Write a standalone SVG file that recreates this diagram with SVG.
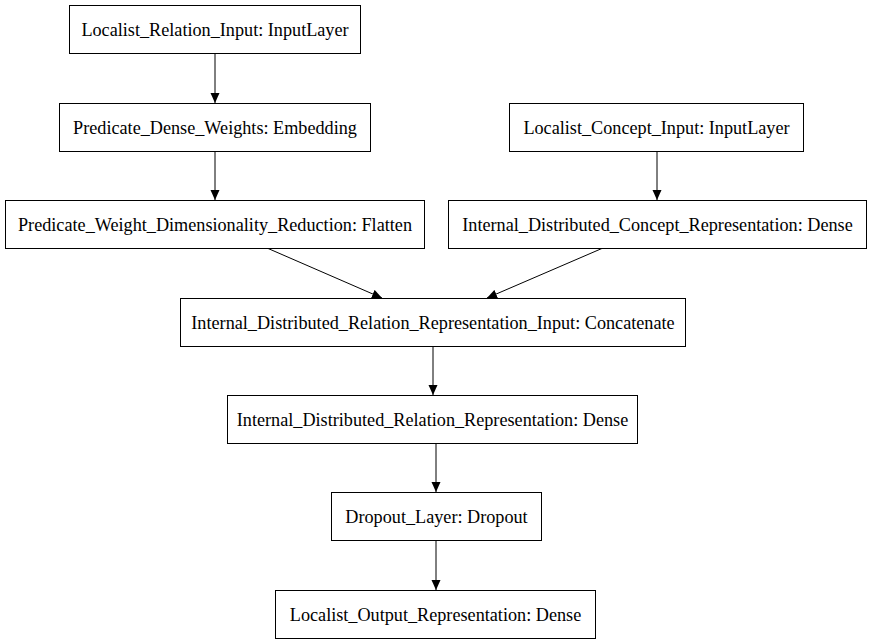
<svg xmlns="http://www.w3.org/2000/svg" width="872" height="644" viewBox="0 0 872 644">
<style>
.n rect{fill:#fff;stroke:#000;stroke-width:1}
.n text{font-family:"Liberation Serif","Times New Roman",serif;font-size:18.2px;text-anchor:middle;fill:#000}
.e line{stroke:#000;stroke-width:1}
</style>
<defs>
<marker id="ah" markerWidth="10" markerHeight="10" refX="10" refY="5" orient="auto" markerUnits="userSpaceOnUse">
<path d="M0,0.5 L10,5 L0,9.5 Z" fill="#000"/>
</marker>
</defs>
<rect width="872" height="644" fill="#fff"/>
<g class="e">
<line x1="215" y1="54" x2="215" y2="103" marker-end="url(#ah)"/>
<line x1="215" y1="152" x2="215" y2="200" marker-end="url(#ah)"/>
<line x1="657" y1="152" x2="657" y2="200" marker-end="url(#ah)"/>
<line x1="267" y1="248" x2="382" y2="298" marker-end="url(#ah)"/>
<line x1="603" y1="248" x2="487" y2="298" marker-end="url(#ah)"/>
<line x1="433" y1="346" x2="433" y2="395" marker-end="url(#ah)"/>
<line x1="436" y1="443" x2="436" y2="492" marker-end="url(#ah)"/>
<line x1="436" y1="541" x2="436" y2="590" marker-end="url(#ah)"/>
</g>
<g id="n1" class="n"><rect x="69.5" y="5.5" width="291" height="48"/><text x="215" y="36">Localist_Relation_Input: InputLayer</text></g>
<g id="n2" class="n"><rect x="59.5" y="103.5" width="311" height="48"/><text x="215" y="134">Predicate_Dense_Weights: Embedding</text></g>
<g id="n3" class="n"><rect x="5.5" y="200.5" width="419" height="48"/><text x="215" y="231">Predicate_Weight_Dimensionality_Reduction: Flatten</text></g>
<g id="n4" class="n"><rect x="509.5" y="103.5" width="294" height="48"/><text x="656.5" y="134">Localist_Concept_Input: InputLayer</text></g>
<g id="n5" class="n"><rect x="448.5" y="200.5" width="418" height="48"/><text x="657.5" y="231">Internal_Distributed_Concept_Representation: Dense</text></g>
<g id="n6" class="n"><rect x="180.5" y="298.5" width="505" height="48"/><text x="433" y="329">Internal_Distributed_Relation_Representation_Input: Concatenate</text></g>
<g id="n7" class="n"><rect x="227.5" y="395.5" width="410" height="48"/><text x="432.5" y="426">Internal_Distributed_Relation_Representation: Dense</text></g>
<g id="n8" class="n"><rect x="331.5" y="492.5" width="210" height="48"/><text x="436.5" y="523">Dropout_Layer: Dropout</text></g>
<g id="n9" class="n"><rect x="275.5" y="590.5" width="320" height="48"/><text x="435.5" y="621">Localist_Output_Representation: Dense</text></g>
</svg>
